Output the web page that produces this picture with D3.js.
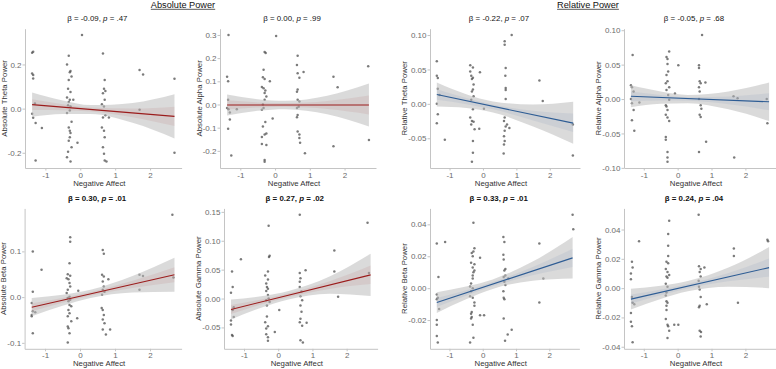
<!DOCTYPE html>
<html>
<head>
<meta charset="utf-8">
<script src="https://cdn.jsdelivr.net/npm/d3@7"></script>
<style>
  body { margin: 0; background: #fff; }
  svg text { font-family: "Liberation Sans", Arial, sans-serif; }
</style>
</head>
<body>
<svg id="chart" width="776" height="369"></svg>
<script>
// Negative Affect (x) vs EEG power (y), one array of [x, y] per panel

const absThetaPts = [
  [-1.38,0.253],[-1.35,0.258],[-1.38,0.159],[-1.35,0.152],[-1.35,0.136],[-1.3,0.023],[-1.38,-0.023],[-1.35,-0.041],[-1.28,-0.065],[-1.1,-0.088],[-1.28,-0.235],
  [0.05,0.333],
  [-0.33,0.24],[-0.38,0.2],[-0.28,0.17],[-0.3,0.165],[-0.25,0.145],[-0.33,0.13],[-0.35,0.09],[-0.28,0.075],[-0.38,0.05],[-0.3,0.04],[-0.33,0.03],[-0.35,0.015],[-0.28,0.01],[-0.3,-0.008],[-0.38,-0.02],[-0.25,-0.06],[-0.33,-0.085],[-0.3,-0.1],[-0.28,-0.11],[-0.3,-0.13],[-0.33,-0.145],[-0.25,-0.175],[-0.35,-0.195],[-0.38,-0.22],[-0.28,-0.24],
  [-0.08,-0.155],[-0.2,0.04],
  [0.65,0.25],[0.7,0.13],[0.68,0.09],[0.72,0.08],[0.65,0.07],[0.7,0.04],[0.62,0.02],[0.68,0.01],[0.72,-0.03],[0.65,-0.04],[0.62,-0.085],[0.68,-0.1],[0.7,-0.13],[0.65,-0.175],[0.68,-0.205],[0.7,-0.235],[0.75,-0.24],
  [0.82,-0.04],[1.7,0.175],[1.8,0.155],[1.7,-0.005],[2.7,0.135],[2.7,-0.2]
];
const absAlphaPts = [
  [-1.34,0.30],[-1.38,0.12],[-1.35,0.1],[-1.35,0.02],[-1.38,-0.015],[-1.34,-0.02],[-1.3,-0.035],[-1.3,-0.065],[-1.35,-0.105],[-1.26,-0.22],[-1.1,-0.02],
  [-0.3,0.227],[-0.27,0.222],[-0.33,0.15],[-0.35,0.117],[-0.3,0.11],[-0.38,0.075],[-0.33,0.07],[-0.28,0.06],[-0.3,0.05],[-0.25,0.035],[-0.3,0.02],[-0.35,0.0],[-0.33,-0.015],[-0.38,-0.023],[-0.28,-0.075],[-0.35,-0.095],[-0.25,-0.125],[-0.3,-0.13],[-0.38,-0.14],[-0.38,-0.17],[-0.25,-0.175],[-0.3,-0.24],[-0.3,-0.247],
  [0.03,0.295],[-0.15,0.1],[-0.07,-0.06],
  [0.65,0.21],[0.63,0.17],[0.65,0.135],[0.7,0.115],[0.65,0.065],[0.63,0.055],[0.65,0.02],[0.7,0.013],[0.68,-0.01],[0.63,-0.015],[0.65,-0.045],[0.63,-0.055],[0.65,-0.117],[0.7,-0.13],[0.7,-0.145],[0.72,-0.165],
  [0.82,0.14],[0.86,-0.21],[1.68,0.12],[1.8,0.074],[1.68,-0.18],[2.68,0.165],[2.7,-0.153]
];
const relThetaPts = [
  [-1.38,0.062],[-1.38,0.041],[-1.35,0.0375],[-1.35,0.022],[-1.3,0.013],[-1.38,0.0],[-1.35,-0.015],[-1.38,-0.028],[-1.14,-0.052],
  [-0.38,0.056],[-0.3,0.053],[-0.38,0.047],[-0.35,0.041],[-0.3,0.038],[-0.33,0.036],[-0.28,0.028],[-0.3,0.021],[-0.33,0.018],[-0.28,0.011],[-0.35,0.006],[-0.3,-0.008],[-0.38,-0.02],[-0.33,-0.025],[-0.28,-0.026],[-0.35,-0.03],[-0.25,-0.037],[-0.3,-0.054],[-0.3,-0.071],[-0.33,-0.084],
  [-0.09,0.046],[-0.11,-0.036],[0.03,-0.007],
  [0.65,0.091],[0.65,0.086],[0.68,0.052],[0.67,0.041],[0.68,0.023],[0.68,0.02],[0.68,0.007],[0.65,-0.02],[0.63,-0.025],[0.68,-0.033],[0.65,-0.039],[0.63,-0.047],[0.65,-0.054],[0.63,-0.059],[0.62,-0.072],[0.79,-0.035],[0.72,-0.03],
  [0.86,0.1],[1.69,0.034],[1.79,0.004],[2.69,-0.03],[2.69,-0.075]
];
const relAlphaPts = [
  [-1.33,0.064],[-1.38,0.02],[-1.35,0.017],[-1.3,0.011],[-1.38,0.0],[-1.35,-0.006],[-1.3,-0.016],[-1.35,-0.031],[-1.28,-0.046],[-1.13,-0.005],
  [-0.25,0.069],[-0.33,0.061],[-0.3,0.058],[-0.3,0.051],[-0.28,0.04],[-0.33,0.035],[-0.3,0.026],[-0.35,0.023],[-0.25,0.017],[-0.33,0.013],[-0.28,0.006],[-0.25,-0.001],[-0.35,-0.009],[-0.33,-0.011],[-0.3,-0.016],[-0.35,-0.023],[-0.3,-0.027],[-0.25,-0.032],[-0.35,-0.055],[-0.35,-0.059],[-0.3,-0.077],[-0.3,-0.085],[-0.3,-0.091],
  [0.02,0.049],[-0.08,0.008],
  [0.72,0.093],[0.63,0.049],[0.63,0.045],[0.65,0.026],[0.68,0.023],[0.63,0.017],[0.65,0.011],[0.63,0.0],[0.68,-0.009],[0.7,-0.014],[0.65,-0.023],[0.68,-0.026],[0.63,-0.077],
  [0.82,0.024],[0.84,-0.062],[1.65,0.004],[1.77,0.001],[1.67,-0.085],[2.63,0.0],[2.65,-0.035]
];
const absBetaPts = [
  [-1.35,0.1],[-1.35,0.012],[-1.38,-0.013],[-1.35,-0.031],[-1.38,-0.039],[-1.38,-0.042],[-1.35,-0.079],[-1.1,0.06],[-1.28,-0.033],
  [-0.28,0.131],[-0.28,0.121],[-0.3,0.074],[-0.35,0.05],[-0.28,0.047],[-0.38,0.041],[-0.33,0.039],[-0.3,0.031],[-0.28,0.023],[-0.35,0.016],[-0.38,0.009],[-0.3,0.001],[-0.35,-0.002],[-0.28,-0.006],[-0.33,-0.009],[-0.3,-0.017],[-0.25,-0.02],[-0.33,-0.028],[-0.3,-0.035],[-0.35,-0.042],[-0.25,-0.053],[-0.35,-0.064],[-0.33,-0.068],[-0.3,-0.079],[-0.35,-0.099],
  [-0.05,0.014],[-0.08,-0.046],
  [0.65,0.103],[0.68,0.095],[0.63,0.049],[0.68,0.045],[0.65,0.034],[0.68,0.023],[0.65,0.016],[0.7,0.012],[0.63,0.005],[0.62,-0.024],[0.65,-0.028],[0.68,-0.039],[0.65,-0.049],[0.7,-0.057],[0.65,-0.071],[0.81,0.039],[0.74,-0.082],[0.86,-0.071],
  [1.7,0.049],[1.8,0.046],[1.7,0.016],[2.64,0.18],[2.67,0.043]
];
const absGammaPts = [
  [-1.35,0.047],[-1.33,0.02],[-1.38,0.01],[-1.3,-0.015],[-1.33,-0.02],[-1.3,-0.032],[-1.38,-0.038],[-1.38,-0.045],[-1.35,-0.063],[-1.33,-0.065],[-1.09,0.068],
  [-0.28,0.126],[-0.25,0.074],[-0.27,0.072],[-0.3,0.047],[-0.38,0.04],[-0.3,0.033],[-0.35,0.026],[-0.33,0.02],[-0.3,0.017],[-0.35,0.013],[-0.3,0.006],[-0.28,0.0],[-0.35,-0.003],[-0.25,-0.006],[-0.33,-0.012],[-0.33,-0.031],[-0.38,-0.041],[-0.3,-0.048],[-0.35,-0.052],[-0.35,-0.062],[-0.3,-0.067],[-0.3,-0.073],
  [-0.1,-0.058],[0.03,-0.02],
  [0.63,0.145],[0.63,0.044],[0.65,0.035],[0.63,0.029],[0.63,0.02],[0.68,0.012],[0.65,0.004],[0.7,-0.003],[0.65,-0.012],[0.68,-0.023],[0.65,-0.035],[0.63,-0.041],[0.7,-0.047],[0.65,-0.072],[0.72,-0.076],
  [0.8,0.049],[0.83,-0.042],[1.64,0.083],[1.64,0.047],[1.75,0.003],[2.61,0.131],[2.65,0.044]
];
const relBetaPts = [
  [-1.38,0.028],[-1.33,0.007],[-1.38,-0.004],[-1.35,-0.006],[-1.38,-0.007],[-1.38,-0.02],[-1.38,-0.023],[-1.38,-0.03],[-1.35,-0.034],[-1.13,0.029],[-1.31,-0.013],
  [-0.28,0.041],[-0.25,0.025],[-0.28,0.023],[-0.33,0.022],[-0.3,0.02],[-0.35,0.016],[-0.25,0.015],[-0.3,0.013],[-0.25,0.011],[-0.28,0.01],[-0.3,0.008],[-0.3,0.006],[-0.35,0.003],[-0.38,0.001],[-0.3,0.0],[-0.35,-0.002],[-0.38,-0.005],[-0.3,-0.006],[-0.25,-0.009],[-0.25,-0.011],[-0.33,-0.015],[-0.35,-0.016],[-0.33,-0.018],[-0.35,-0.019],[-0.3,-0.023],[-0.28,-0.031],[-0.38,-0.034],
  [-0.08,0.019],[-0.08,-0.017],[0.04,-0.017],
  [0.62,0.032],[0.65,0.029],[0.62,0.021],[0.63,0.018],[0.68,0.012],[0.65,0.011],[0.68,0.008],[0.63,0.007],[0.65,0.004],[0.68,0.002],[0.62,-0.002],[0.63,-0.006],[0.65,-0.007],[0.63,-0.019],[0.67,-0.033],
  [0.77,0.006],[0.75,-0.029],[0.87,-0.026],[1.7,0.028],[1.82,0.006],[1.7,-0.009],[2.7,0.046],[2.72,0.037]
];
const relGammaPts = [
  [-1.35,0.018],[-1.33,0.014],[-1.38,0.01],[-1.38,0.006],[-1.35,-0.006],[-1.33,-0.01],[-1.38,-0.017],[-1.38,-0.023],[-1.35,-0.026],[-1.33,-0.037],[-1.14,0.032],[-1.28,-0.011],
  [-0.25,0.046],[-0.28,0.037],[-0.28,0.029],[-0.28,0.022],[-0.33,0.018],[-0.28,0.017],[-0.35,0.013],[-0.3,0.011],[-0.25,0.009],[-0.33,0.008],[-0.3,0.007],[-0.35,0.003],[-0.3,0.001],[-0.33,-0.003],[-0.35,-0.005],[-0.33,-0.009],[-0.3,-0.01],[-0.33,-0.012],[-0.33,-0.015],[-0.35,-0.021],[-0.3,-0.025],[-0.28,-0.026],[-0.25,-0.029],[-0.3,-0.034],
  [-0.1,-0.025],[0.02,-0.025],
  [0.62,0.05],[0.63,0.015],[0.68,0.013],[0.65,0.011],[0.68,0.008],[0.62,0.005],[0.63,0.001],[0.65,-0.001],[0.68,-0.006],[0.65,-0.012],[0.63,-0.013],[0.65,-0.029],[0.68,-0.033],
  [0.79,0.014],[0.86,-0.011],[0.69,-0.03],[1.66,0.027],[1.66,0.022],[1.78,-0.01],[2.65,0.033],[2.67,0.032]
];

// fitted lines: [x0, y0, x1, y1]
const absThetaFit = [-1.38, 0.018, 2.7, -0.035];
const absAlphaFit = [-1.38, -0.002, 2.7, -0.002];
const relThetaFit = [-1.38, 0.0135, 2.7, -0.028];
const relAlphaFit = [-1.38, 0.004, 2.7, -0.004];
const absBetaFit  = [-1.38, -0.022, 2.7, 0.049];
const absGammaFit = [-1.38, -0.019, 2.7, 0.041];
const relBetaFit  = [-1.38, -0.009, 2.7, 0.019];
const relGammaFit = [-1.38, -0.0075, 2.7, 0.014];

// confidence bands: [x, lower, upper]
const absThetaBand = [[-1.38,-0.037,0.073],[-0.5,-0.024,0.037],[0.3,-0.024,0.016],[1.5,-0.064,0.026],[2.7,-0.135,0.065]];
const absAlphaBand = [[-1.38,-0.047,0.043],[-0.5,-0.027,0.023],[0.3,-0.02,0.016],[1.5,-0.042,0.038],[2.7,-0.095,0.091]];
const relThetaBand = [[-1.38,-0.004,0.031],[-0.5,-0.006,0.014],[0.3,-0.0124,0.0036],[1.5,-0.033,-0.001],[2.7,-0.058,0.003]];
const relAlphaBand = [[-1.38,-0.012,0.02],[-0.5,-0.007,0.011],[0.3,-0.006,0.006],[1.5,-0.015,0.011],[2.7,-0.032,0.024]];
const absBetaBand  = [[-1.38,-0.042,-0.002],[-0.5,-0.019,0.005],[0.3,-0.002,0.016],[1.5,0.01,0.046],[2.7,0.012,0.086]];
const absGammaBand = [[-1.38,-0.0365,-0.0015],[-0.5,-0.016,0.004],[0.3,-0.0018,0.0132],[1.5,0.0083,0.0383],[2.7,0.0045,0.0775]];
const relBetaBand  = [[-1.38,-0.0155,-0.0025],[-0.5,-0.007,0.001],[0.3,-0.0005,0.0055],[1.5,0.0047,0.0167],[2.7,0.006,0.032]];
const relGammaBand = [[-1.38,-0.0145,-0.0005],[-0.5,-0.0074,0.0016],[0.3,-0.0022,0.0048],[1.5,0.001,0.014],[2.7,0.0,0.028]];

// axis limits and ticks
const xLimits = [-1.584, 2.904];
const xTicks = [-1, 0, 1, 2];
const yLimits = [[-0.269,0.362],[-0.274,0.327],[-0.0932,0.1092],[-0.1002,0.1022],
                 [-0.113,0.194],[-0.087,0.156],[-0.038,0.05],[-0.0414,0.0544]];
const yTicks = [[-0.2,0,0.2],[-0.2,-0.1,0,0.1,0.2,0.3],[-0.05,0,0.05,0.1],[-0.1,-0.05,0,0.05,0.1],
                [-0.1,0,0.1],[-0.05,0,0.05,0.1,0.15],[-0.02,0,0.02,0.04],[-0.04,-0.02,0,0.02,0.04]];
const yDigits = [1, 1, 2, 2, 1, 2, 2, 2];

const yLabels = ['Absolute Theta Power','Absolute Alpha Power','Relative Theta Power','Relative Alpha Power',
                 'Absolute Beta Power','Absolute Gamma Power','Relative Beta Power','Relative Gamma Power'];
const betas = ['-0.09','0.00','-0.22','-0.05','0.30','0.27','0.33','0.24'];
const pvals = ['.47','.99','.07','.68','.01','.02','.01','.04'];
const headers = ['Absolute Power', 'Relative Power'];

const allPts = [absThetaPts, absAlphaPts, relThetaPts, relAlphaPts, absBetaPts, absGammaPts, relBetaPts, relGammaPts];
const allFits = [absThetaFit, absAlphaFit, relThetaFit, relAlphaFit, absBetaFit, absGammaFit, relBetaFit, relGammaFit];
const allBands = [absThetaBand, absAlphaBand, relThetaBand, relAlphaBand, absBetaBand, absGammaBand, relBetaBand, relGammaBand];

// panel boxes (left, right) per column, (top, bottom) per row
const boxes = [
  [25, 181.6], [220, 376], [430, 580], [624, 776],
  [24.6, 181.6], [224, 377.6], [430, 579.4], [624, 776]
];
const rows = [[28.7, 168], [208.4, 348.8]];

const lineColor = { abs: '#9b1c1c', rel: '#2d5c94' };
const axisGray = '#c4c4c4';
const textGray = '#6b6b6b';

const svg = d3.select('#chart');

// header labels (underlined)
[[183, headers[0]], [588, headers[1]]].forEach(([cx, t]) => {
  const txt = svg.append('text')
    .attr('x', cx).attr('y', 8)
    .attr('text-anchor', 'middle')
    .attr('font-size', 9.2)
    .attr('fill', '#111')
    .text(t);
  const w = txt.node().getComputedTextLength();
  svg.append('line')
    .attr('x1', cx - w / 2).attr('x2', cx + w / 2)
    .attr('y1', 9.3).attr('y2', 9.3)
    .attr('stroke', '#111').attr('stroke-width', 0.7);
});

allPts.forEach((pts, i) => {
  const [left, right] = boxes[i];
  const [top, bottom] = rows[Math.floor(i / 4)];
  const kind = (i % 4) < 2 ? 'abs' : 'rel';
  const col = lineColor[kind];

  const x = d3.scaleLinear().domain(xLimits).range([left, right]);
  const y = d3.scaleLinear().domain(yLimits[i]).range([bottom, top]);

  const g = svg.append('g');

  // points
  g.append('g').selectAll('circle')
    .data(pts)
    .join('circle')
    .attr('cx', d => x(d[0]))
    .attr('cy', d => y(d[1]))
    .attr('r', 1.25)
    .attr('fill', '#4f4f4f')
    .attr('fill-opacity', 0.75);

  // confidence band
  const band = allBands[i];
  const area = d3.area()
    .x(d => x(d[0]))
    .y0(d => y(d[1]))
    .y1(d => y(d[2]))
    .curve(d3.curveMonotoneX);
  g.append('path')
    .attr('d', area(band))
    .attr('fill', '#bcbcbc')
    .attr('fill-opacity', 0.55);

  // faint tint of the line colour in the middle of the band
  const inner = d3.area()
    .x(d => x(d[0]))
    .y0(d => y((d[1] + d[2]) / 2 - (d[2] - d[1]) * 0.22))
    .y1(d => y((d[1] + d[2]) / 2 + (d[2] - d[1]) * 0.22))
    .curve(d3.curveMonotoneX);
  g.append('path')
    .attr('d', inner(band))
    .attr('fill', col)
    .attr('fill-opacity', 0.08);

  // fitted line
  const f = allFits[i];
  g.append('line')
    .attr('x1', x(f[0])).attr('y1', y(f[1]))
    .attr('x2', x(f[2])).attr('y2', y(f[3]))
    .attr('stroke', col)
    .attr('stroke-width', 1.1);

  // axes
  const fmt = v => d3.format('.' + yDigits[i] + 'f')(v).replace('\u2212', '-');
  const xAxis = g.append('g')
    .attr('transform', `translate(0,${bottom})`)
    .call(d3.axisBottom(x).tickValues(xTicks).tickSize(2.5).tickSizeOuter(0).tickPadding(1.5)
      .tickFormat(v => String(v)));
  const yAxis = g.append('g')
    .attr('transform', `translate(${left},0)`)
    .call(d3.axisLeft(y).tickValues(yTicks[i]).tickSize(2.5).tickSizeOuter(0).tickPadding(1)
      .tickFormat(fmt));

  [xAxis, yAxis].forEach(a => {
    a.select('.domain').attr('stroke', axisGray).attr('stroke-width', 1);
    a.selectAll('.tick line').attr('stroke', axisGray);
    a.selectAll('.tick text')
      .attr('fill', textGray)
      .attr('font-size', 8)
      .attr('font-family', '"Liberation Sans", Arial, sans-serif');
  });

  // x axis title
  g.append('text')
    .attr('x', (left + right) / 2 - 4)
    .attr('y', bottom + 17.5)
    .attr('text-anchor', 'middle')
    .attr('font-size', 7.8)
    .attr('fill', '#333')
    .text('Negative Affect');

  // y axis title, placed just left of the widest tick label
  let maxW = 0;
  yAxis.selectAll('.tick text').each(function () {
    maxW = Math.max(maxW, this.getComputedTextLength());
  });
  const ty = left - 3.5 - maxW - 1.2;
  g.append('text')
    .attr('transform', `translate(${ty},${(top + bottom) / 2}) rotate(-90)`)
    .attr('text-anchor', 'middle')
    .attr('font-size', 7.8)
    .attr('fill', '#333')
    .text(yLabels[i]);

  // panel title
  const title = g.append('text')
    .attr('x', (left + right) / 2 - 6)
    .attr('y', top - 7.8)
    .attr('text-anchor', 'middle')
    .attr('font-size', 7.9)
    .attr('font-weight', i >= 4 ? 'bold' : 'normal')
    .attr('fill', '#111');
  title.append('tspan').text(`\u03b2 = ${betas[i]}, `);
  title.append('tspan').attr('font-style', 'italic').text('p');
  title.append('tspan').text(` = ${pvals[i]}`);
});
</script>
</body>
</html>
